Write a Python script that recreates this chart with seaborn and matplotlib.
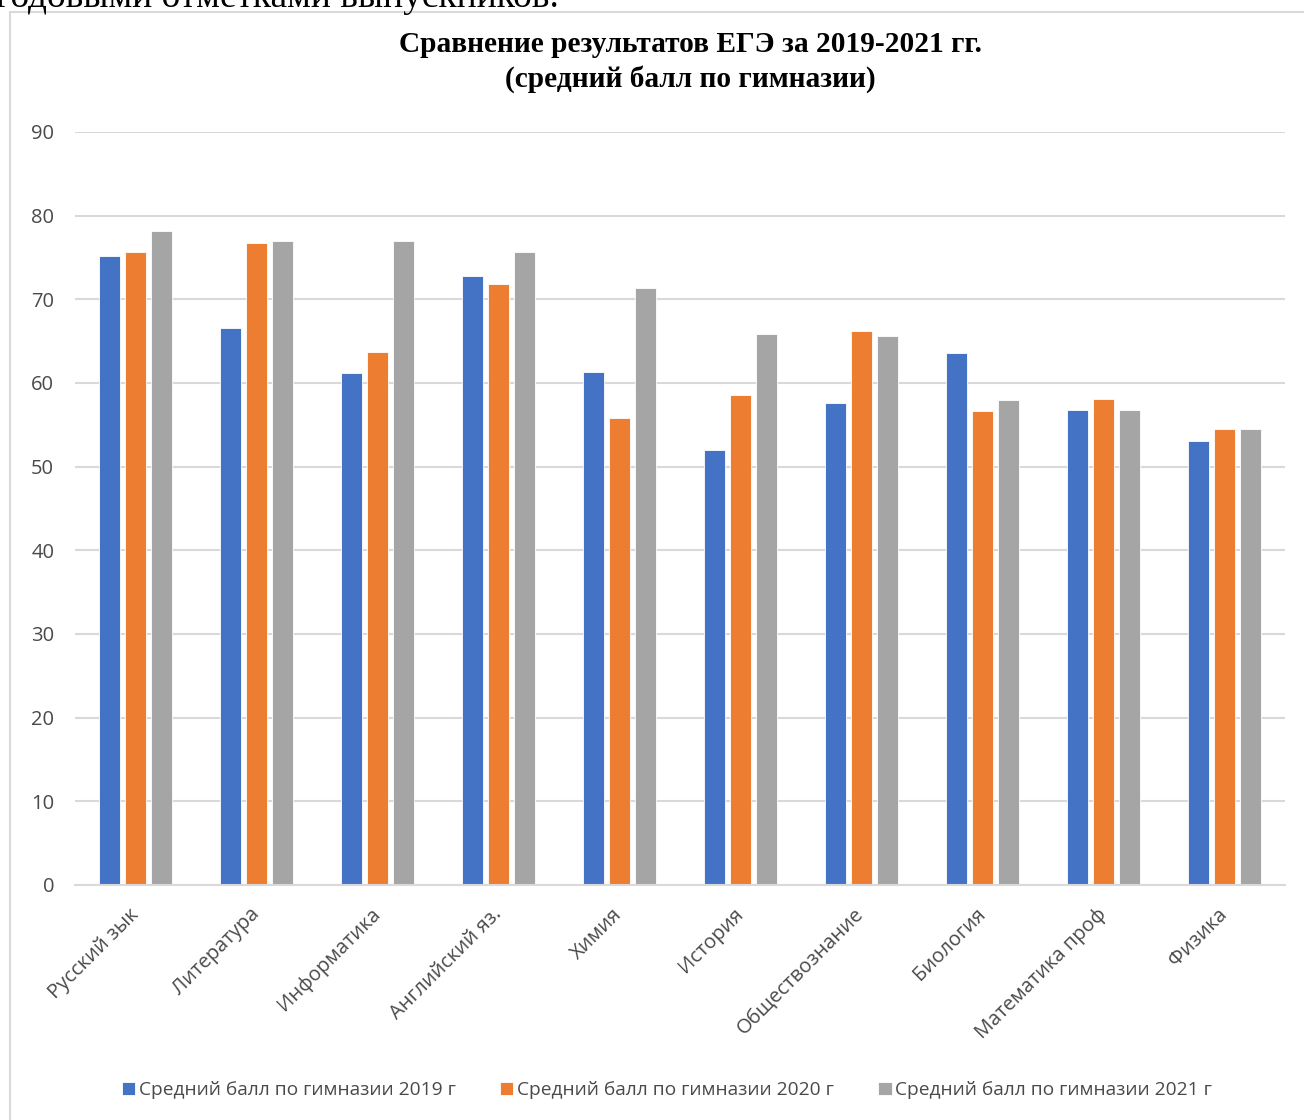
"""Bar chart: ЕГЭ results 2019-2021, average score by gymnasium."""

import matplotlib

matplotlib.use("Agg")
import matplotlib.pyplot as plt
import pandas as pd
import seaborn as sns
from matplotlib.patches import Rectangle

SUBJECTS = [
    "Русский зык",
    "Литература",
    "Информатика",
    "Английский яз.",
    "Химия",
    "История",
    "Обществознание",
    "Биология",
    "Математика проф",
    "Физика",
]
SERIES = [
    "Средний балл по гимназии 2019 г",
    "Средний балл по гимназии 2020 г",
    "Средний балл по гимназии 2021 г",
]
SCORES_2019 = [75.2, 66.6, 61.2, 72.8, 61.3, 52.0, 57.6, 63.6, 56.8, 53.1]
SCORES_2020 = [75.7, 76.7, 63.7, 71.8, 55.8, 58.6, 66.2, 56.6, 58.1, 54.5]
SCORES_2021 = [78.2, 77.0, 77.0, 75.7, 71.4, 65.9, 65.6, 58.0, 56.8, 54.5]
Y_TICKS = list(range(0, 100, 10))

BLUE = "#4472C4"
ORANGE = "#ED7D31"
GRAY = "#A5A5A5"
GRID = "#D9D9D9"
TEXT = "#4A4A4A"


def build_frame():
    rows = []
    for name, values in zip(SERIES, [SCORES_2019, SCORES_2020, SCORES_2021]):
        for subject, value in zip(SUBJECTS, values):
            rows.append({"subject": subject, "series": name, "score": value})
    return pd.DataFrame(rows)


def main():
    sns.set_theme(style="white")
    plt.rcParams["font.family"] = ["Open Sans", "DejaVu Sans"]

    W, H = 1304, 1120
    fig = plt.figure(figsize=(W / 100, H / 100), dpi=100)
    fig.patch.set_facecolor("white")

    # chart frame (cut by the page edge on the right and bottom)
    fig.patches.append(
        Rectangle(
            (10 / W, -0.02), 1.05, 1 - 12 / H + 0.02,
            transform=fig.transFigure, fill=False, edgecolor=GRID, linewidth=1.5,
        )
    )
    # tail of the document line above the chart, cropped by the page edge
    fig.text(
        -0.003, 1 - 7 / H, "годовыми отметками выпускников.",
        family="Liberation Serif", fontsize=27, va="baseline", ha="left", color="black",
    )

    ax = fig.add_axes([75 / W, 1 - 885 / H, (1285 - 75) / W, (885 - 132) / H])
    data = build_frame()
    sns.barplot(
        data=data, x="subject", y="score", hue="series",
        palette=[BLUE, ORANGE, GRAY], saturation=1, width=0.64, gap=0.2,
        edgecolor="white", linewidth=0.6, ax=ax, legend=True,
    )

    ax.set_ylim(0, 90)
    ax.set_yticks(Y_TICKS)
    ax.set_xlim(-0.5, len(SUBJECTS) - 0.5)
    ax.grid(axis="y", color=GRID, linewidth=1.5)
    ax.set_axisbelow(True)
    for side in ["top", "right", "left"]:
        ax.spines[side].set_visible(False)
    ax.spines["bottom"].set_color(GRID)
    ax.spines["bottom"].set_linewidth(1.5)
    ax.set_xlabel("")
    ax.set_ylabel("")
    ax.tick_params(axis="both", length=0, colors=TEXT, labelsize=14.5)
    ax.tick_params(axis="y", pad=15)
    for label in ax.get_xticklabels():
        label.set_rotation(45)
        label.set_rotation_mode("anchor")
        label.set_ha("right")
        label.set_va("center")
    ax.tick_params(axis="x", pad=19)

    fig.text(
        690 / W, 1 - 45 / H, "Сравнение результатов ЕГЭ за 2019-2021 гг.",
        family="Liberation Serif", weight="bold", fontsize=21.2, ha="center", va="center",
        color="black",
    )
    fig.text(
        690 / W, 1 - 79 / H, "(средний балл по гимназии)",
        family="Liberation Serif", weight="bold", fontsize=21.2, ha="center", va="center",
        color="black",
    )

    handles, labels = ax.get_legend_handles_labels()
    ax.get_legend().remove()
    fig.legend(
        handles, labels, loc="center", bbox_to_anchor=(667 / W, 1 - 1090 / H),
        ncol=3, frameon=False, fontsize=13.8, handlelength=0.7, handleheight=0.7,
        handletextpad=0.2, columnspacing=2.3, labelcolor=TEXT,
    )

    fig.savefig("out.png", dpi=100, facecolor="white")
    plt.close(fig)


if __name__ == "__main__":
    main()
